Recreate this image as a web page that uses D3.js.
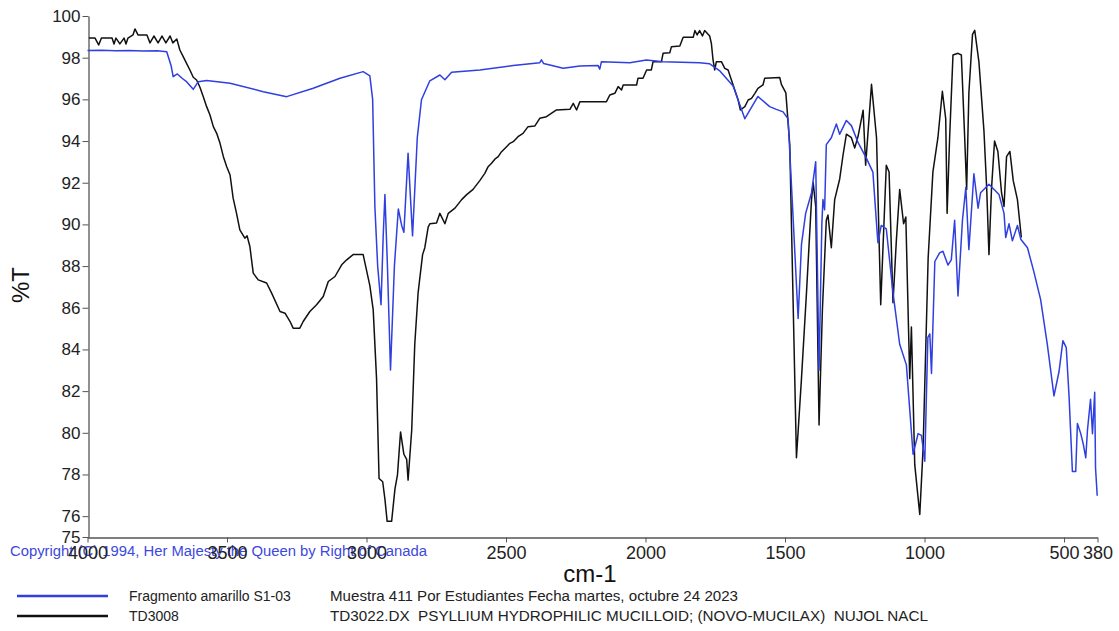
<!DOCTYPE html>
<html><head><meta charset="utf-8">
<script src="https://cdn.jsdelivr.net/npm/d3@7"></script>
<style>
html,body{margin:0;padding:0;background:#fff;}
svg{display:block;font-family:"Liberation Sans",Arial,Helvetica,sans-serif;}
</style></head>
<body><svg id="c" width="1119" height="631"></svg>
<script>
// ---- data ----
const xTicks = [4000, 3500, 3000, 2500, 2000, 1500, 1000, 500, 380];
const yTicks = [75, 76, 78, 80, 82, 84, 86, 88, 90, 92, 94, 96, 98, 100];

const blueWn = [4000,3950,3900,3850,3800,3750,3716,3700,3693,3678,3660,3645,3621,3603,3573,3489,3370,3286,3191,3095,3012,2988,2978,2970,2960,2948,2940,2934,2925,2914,2900,2886,2874,2866,2851,2835,2818,2803,2773,2737,2719,2695,2594,2474,2379,2373,2365,2295,2235,2170,2164,2158,2056,1997,1937,1806,1771,1735,1686,1644,1597,1555,1531,1507,1489,1473,1453,1441,1426,1405,1390,1378,1368,1364,1358,1352,1334,1316,1304,1280,1262,1238,1208,1185,1172,1167,1155,1137,1113,1089,1065,1041,1023,1011,999,988,981,975,963,946,934,916,904,892,880,864,852,841,823,808,799,769,733,715,709,697,685,667,655,631,608,584,560,536,518,504,492,482,470,458,452,440,431,422,416,405,398,390,387,381];
const blueT = [98.34,98.36,98.33,98.35,98.32,98.33,98.28,97.6,97.09,97.22,97.0,96.85,96.48,96.85,96.9,96.77,96.37,96.13,96.53,97.01,97.33,97.13,96.0,90.86,88.0,86.15,89.5,91.43,88.0,83.01,88.0,90.74,89.95,89.62,93.42,89.45,94.16,95.98,96.89,97.17,96.94,97.3,97.41,97.62,97.76,97.9,97.72,97.49,97.6,97.62,97.45,97.81,97.76,97.89,97.81,97.76,97.71,97.38,96.64,95.07,96.14,95.65,95.52,95.4,95.07,90.86,85.49,89.04,90.53,91.52,93.01,83.0,90.0,91.19,90.7,93.83,94.16,94.82,94.33,94.99,94.74,93.92,93.17,92.51,90.03,89.12,89.95,89.79,86.73,84.25,83.26,78.97,79.96,79.88,78.64,84.58,84.75,82.85,88.22,88.63,88.71,88.05,88.3,90.2,86.57,90.2,91.77,88.79,92.43,90.78,91.52,91.93,91.43,90.53,89.37,90.03,89.21,89.95,89.29,88.88,87.72,86.4,84.25,81.77,82.93,84.42,84.09,81.77,78.14,78.14,80.45,79.96,79.46,78.8,80.12,81.61,79.96,81.94,78.3,76.98];

const blackWn = [3995,3973,3960,3950,3937,3912,3905,3898,3884,3869,3862,3855,3837,3830,3819,3787,3776,3762,3747,3733,3719,3704,3694,3680,3669,3657,3645,3633,3621,3609,3597,3585,3573,3561,3549,3537,3525,3513,3501,3489,3478,3466,3454,3436,3428,3418,3406,3388,3358,3340,3310,3292,3274,3263,3239,3227,3203,3179,3155,3137,3113,3089,3071,3048,3012,2988,2976,2964,2955,2942,2934,2926,2910,2898,2889,2878,2866,2856,2851,2838,2827,2815,2799,2791,2779,2773,2749,2737,2719,2707,2683,2659,2641,2618,2594,2576,2564,2552,2540,2528,2516,2498,2486,2474,2457,2439,2421,2397,2379,2355,2319,2271,2259,2247,2235,2140,2128,2110,2098,2086,2080,2032,2027,2009,1996,1979,1973,1943,1937,1913,1907,1877,1865,1829,1823,1815,1806,1796,1788,1770,1764,1758,1752,1746,1728,1716,1704,1692,1680,1668,1660,1644,1632,1620,1608,1597,1579,1573,1519,1513,1497,1483,1473,1459,1441,1423,1405,1399,1390,1378,1366,1352,1346,1334,1322,1304,1292,1280,1262,1250,1238,1220,1211,1190,1172,1157,1137,1127,1113,1101,1089,1075,1067,1053,1047,1035,1017,1005,987,970,952,936,924,919,910,898,880,868,856,849,841,828,820,805,787,777,769,760,749,737,724,715,706,694,682,667,653];
const blackT = [98.94,98.94,98.61,98.94,98.94,98.94,98.66,98.94,98.66,98.94,98.66,98.94,99.09,99.38,99.09,99.09,98.71,99.04,98.71,99.04,98.71,99.04,98.71,98.9,98.37,98.05,97.73,97.41,97.06,96.93,96.58,96.13,95.65,95.25,94.69,94.37,93.89,93.25,92.77,92.37,91.26,90.54,89.74,89.34,89.45,88.94,87.66,87.34,87.19,86.7,85.82,85.74,85.34,85.02,85.02,85.34,85.82,86.14,86.54,87.26,87.5,88.06,88.3,88.55,88.55,87.06,85.9,82.6,77.81,77.65,76.82,75.75,75.75,77.31,77.98,80.04,78.97,78.72,77.73,80.12,84.25,86.73,88.55,88.88,89.87,90.03,90.07,90.53,90.03,90.53,90.78,91.19,91.43,91.68,92.1,92.45,92.77,92.93,93.13,93.25,93.49,93.73,93.89,93.97,94.21,94.37,94.69,94.72,95.09,95.17,95.49,95.52,95.81,95.49,95.89,95.89,96.21,96.29,96.61,96.45,96.69,96.69,97.01,97.01,97.41,97.41,97.81,97.81,98.21,98.24,98.53,98.56,98.98,98.98,99.3,99.09,99.3,99.04,99.3,99.04,98.69,97.89,97.41,97.81,97.81,97.49,97.41,96.93,96.45,95.97,95.49,95.65,95.97,96.05,96.29,96.53,96.69,97.01,97.05,96.72,96.31,93.83,87.55,78.8,82.6,86.73,91.19,92.01,90.86,80.37,85.9,90.2,90.45,88.88,91.19,92.18,93.33,94.33,94.16,93.67,94.24,95.48,92.84,96.72,94.16,86.15,92.84,92.51,86.24,89.21,91.68,90.03,90.36,82.6,85.08,78.47,76.08,79.29,88.38,92.51,94.16,96.39,95.07,90.53,94.16,98.13,98.21,98.13,94.16,91.68,96.31,99.12,99.31,97.8,94.49,91.68,88.55,91.68,94.0,93.5,91.52,90.86,93.25,93.5,92.1,91.19,89.37];

const seriesNames = ["Fragmento amarillo S1-03", "TD3008"];
const seriesInfo = ["Muestra 411 Por Estudiantes Fecha martes, octubre 24 2023",
                    "TD3022.DX  PSYLLIUM HYDROPHILIC MUCILLOID; (NOVO-MUCILAX)  NUJOL NACL"];
const colors = ["#2f3fe0", "#111111"];

// ---- drawing ----
const svg = d3.select("#c");
const x = d3.scaleLinear().domain([4000, 380]).range([87.5, 1097.5]);
const y = d3.scaleLinear().domain([75, 100]).range([537, 16]);

const yAxis = svg.append("g").attr("transform", "translate(88.5,0)")
  .call(d3.axisLeft(y).tickValues(yTicks).tickSize(6).tickSizeOuter(0).tickPadding(2));
yAxis.select(".domain").attr("stroke", "#555").attr("stroke-width", 1.3);
yAxis.selectAll(".tick line").attr("stroke", "#555");
yAxis.selectAll(".tick text").attr("font-size", 17).attr("fill", "#222")
  .attr("font-family", "'Liberation Sans',Arial,sans-serif");

const xAxis = svg.append("g").attr("transform", "translate(0,537.5)")
  .call(d3.axisBottom(x).tickValues(xTicks).tickSize(5).tickSizeOuter(0).tickPadding(4).tickFormat(d3.format("d")));
xAxis.select(".domain").attr("stroke", "#555").attr("stroke-width", 1.3);
xAxis.selectAll(".tick line").attr("stroke", "#555");
xAxis.selectAll(".tick text").attr("font-size", 18).attr("fill", "#222")
  .attr("font-family", "'Liberation Sans',Arial,sans-serif");

// copyright text (drawn over by the axis labels in original)
svg.insert("text", ":first-child").attr("x", 10).attr("y", 556)
  .attr("font-size", 14).attr("fill", "#3c48e0")
  .attr("textLength", 417).attr("lengthAdjust", "spacingAndGlyphs")
  .text("Copyright (C) 1994, Her Majesty the Queen by Right of Canada");

svg.append("text").attr("x", 590).attr("y", 582).attr("text-anchor", "middle")
  .attr("font-size", 24).attr("fill", "#111").text("cm-1");
svg.append("text").attr("transform", "translate(29,285) rotate(-90)").attr("text-anchor", "middle")
  .attr("font-size", 24).attr("fill", "#111").text("%T");

const line = d3.line().x(d => x(d[0])).y(d => y(d[1]));
const blackData = blackWn.map((w, i) => [w, blackT[i]]);
const blueData = blueWn.map((w, i) => [w, blueT[i]]);
svg.append("path").datum(blackData).attr("d", line).attr("fill", "none")
  .attr("stroke", colors[1]).attr("stroke-width", 1.5).attr("stroke-linejoin", "round");
svg.append("path").datum(blueData).attr("d", line).attr("fill", "none")
  .attr("stroke", colors[0]).attr("stroke-width", 1.5).attr("stroke-linejoin", "round");

// legend
const legY = [596, 616];
seriesNames.forEach((n, i) => {
  svg.append("line").attr("x1", 17).attr("x2", 108).attr("y1", legY[i]).attr("y2", legY[i])
    .attr("stroke", colors[i]).attr("stroke-width", 2.5);
  svg.append("text").attr("x", 129).attr("y", legY[i] + 5).attr("font-size", 14).attr("fill", "#222").text(n);
});
const infoLen = [408, 598];
seriesInfo.forEach((t, i) => {
  svg.append("text").attr("x", 330).attr("y", legY[i] + 5).attr("font-size", 14).attr("fill", "#222")
    .attr("textLength", infoLen[i]).attr("lengthAdjust", "spacingAndGlyphs").style("white-space", "pre")
    .attr("xml:space", "preserve").text(t);
});
</script></body></html>
